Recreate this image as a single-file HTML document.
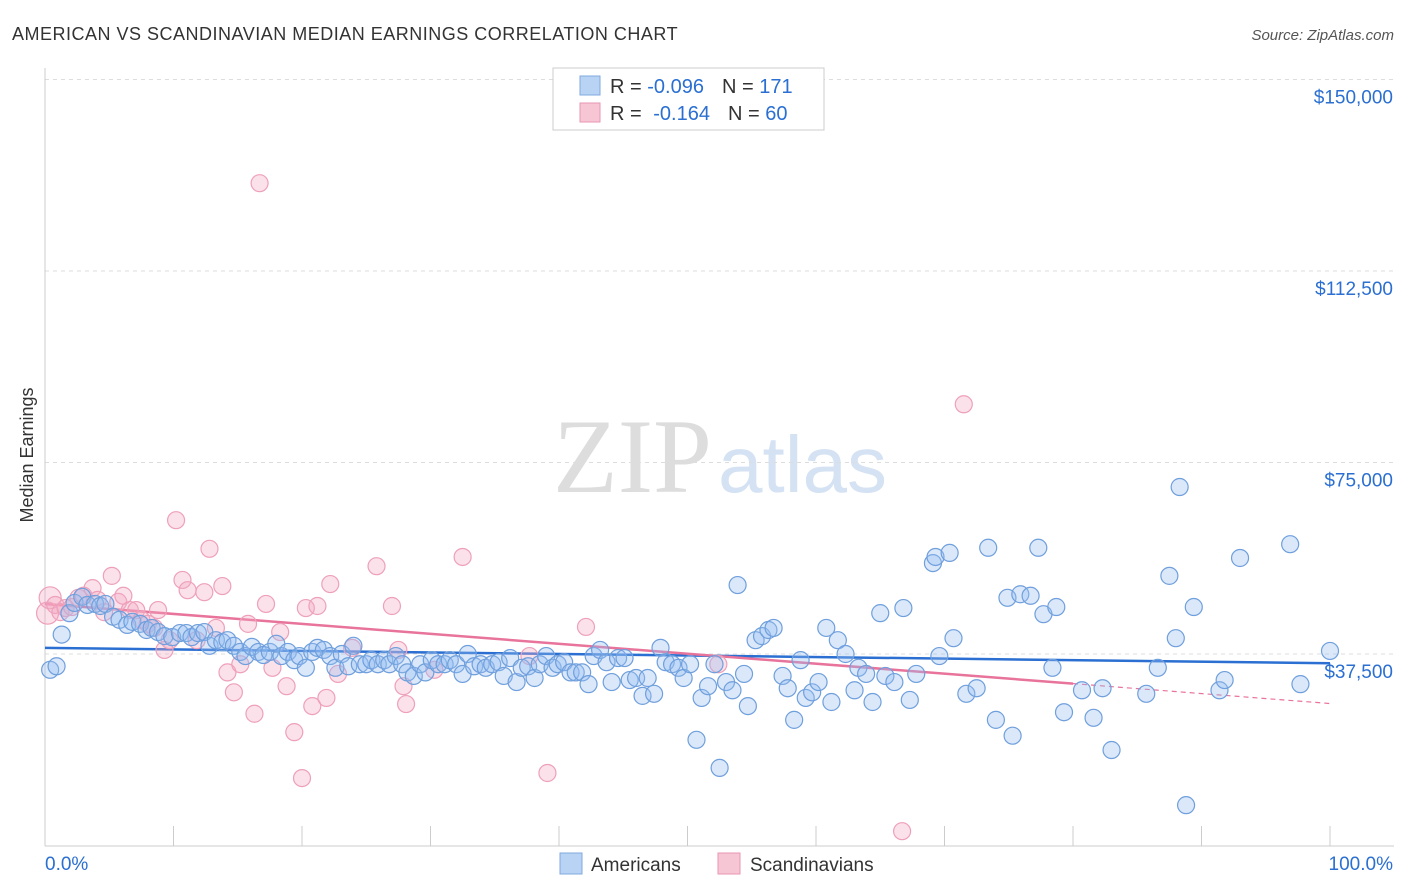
<!DOCTYPE html>
<html><head><meta charset="utf-8"><style>
body{margin:0;background:#fff;font-family:"Liberation Sans",sans-serif;}
#wrap{position:relative;width:1406px;height:892px;overflow:hidden}
</style></head><body>
<div id="wrap">
<svg id="chart" width="1406" height="892">
<text x="12" y="40" font-size="18" fill="#333" letter-spacing="0.5">AMERICAN VS SCANDINAVIAN MEDIAN EARNINGS CORRELATION CHART</text>
<text x="1394" y="40" font-size="15" fill="#555" text-anchor="end" font-style="italic">Source: ZipAtlas.com</text>
<text x="33" y="455" font-size="18" fill="#333" text-anchor="middle" transform="rotate(-90 33 455)">Median Earnings</text>
<g><text x="553" y="492" font-size="106" fill="#ddd" font-family="Liberation Serif">ZIP</text><text x="718" y="492" font-size="80" fill="#d4e2f3">atlas</text></g>
<g id="grid"></g><g id="axes"></g><g id="trend"></g><g id="pts"></g>
<g>
<rect x="553" y="68" width="271" height="62" fill="#fff" stroke="#ccc"/>
<rect x="580" y="76" width="20" height="19" fill="#b8d3f3" stroke="#7fa9dd"/>
<rect x="580" y="103" width="20" height="19" fill="#f7c6d5" stroke="#e996b2"/>
<text x="610" y="93" font-size="20" fill="#333">R = <tspan fill="#2a6fd1">-0.096</tspan><tspan dx="18">N = </tspan><tspan fill="#2a6fd1">171</tspan></text>
<text x="610" y="120" font-size="20" fill="#333">R = <tspan dx="6" fill="#2a6fd1">-0.164</tspan><tspan dx="18">N = </tspan><tspan fill="#2a6fd1"> 60</tspan></text>
</g>
<g>
<rect x="560" y="853" width="22" height="21" fill="#b8d3f3" stroke="#7fa9dd"/>
<text x="591" y="871" font-size="19" fill="#333">Americans</text>
<rect x="718" y="853" width="22" height="21" fill="#f7c6d5" stroke="#e996b2"/>
<text x="750" y="871" font-size="19" fill="#333">Scandinavians</text>
</g>
</svg></div>
<script>
const yTicks=[37500,75000,112500,150000];
const yTickLabels=["$37,500","$75,000","$112,500","$150,000"];
const xTickLabels=["0.0%","100.0%"];
const blueX=[0.4,0.9,1.3,1.9,2.3,2.9,3.3,3.9,4.3,4.7,5.3,5.8,6.4,6.8,7.4,7.9,8.3,8.8,9.3,9.9,10.5,11.0,11.4,11.9,12.4,12.8,13.3,13.8,14.2,14.7,15.2,15.6,16.1,16.6,17.0,17.5,18.0,18.4,18.9,19.4,19.8,20.3,20.8,21.2,21.7,22.2,22.6,23.1,23.6,24.0,24.5,25.0,25.4,25.9,26.4,26.8,27.3,27.8,28.2,28.7,29.2,29.6,30.1,30.6,31.1,31.5,32.0,32.5,32.9,33.4,33.9,34.3,34.8,35.3,35.7,36.2,36.7,37.1,37.6,38.1,38.5,39.0,39.5,39.9,40.4,40.9,41.3,41.8,42.3,42.7,43.2,43.7,44.1,44.6,45.1,45.5,46.0,46.5,46.9,47.4,47.9,48.3,48.8,49.3,49.7,50.2,50.7,51.1,51.6,52.1,52.5,53.0,53.5,53.9,54.4,54.7,55.3,55.8,56.3,56.7,57.4,57.8,58.3,58.8,59.2,59.7,60.2,60.8,61.2,61.7,62.3,63.0,63.3,63.9,64.4,65.0,65.4,66.1,66.8,67.3,67.8,69.1,69.3,69.6,70.4,70.7,71.7,72.5,73.4,74.0,75.3,74.9,75.9,76.7,77.3,77.7,78.7,78.4,79.3,80.7,81.6,82.3,83.0,85.7,86.6,87.5,88.0,88.3,88.8,89.4,91.4,91.8,93.0,96.9,97.7,100];
const blueY=[34.4,35.1,41.3,45.5,47.5,48.7,47.1,47.3,46.9,47.3,44.8,44.2,43.2,43.8,43.4,42.2,42.6,41.8,41.0,40.8,41.6,41.6,40.8,41.6,41.8,39.1,40.2,39.8,40.2,39.1,37.9,37.1,38.9,37.9,37.3,37.9,39.5,37.1,37.9,36.3,37.1,34.8,37.9,38.7,38.3,37.1,34.8,37.5,35.1,39.1,35.5,35.5,36.3,35.5,36.3,35.5,37.1,35.5,33.9,33.2,35.5,33.9,36.3,35.5,35.5,36.3,35.5,33.6,37.5,35.1,35.5,34.8,35.5,35.9,33.2,36.7,32.0,34.8,35.1,32.8,35.5,37.1,34.8,35.5,35.9,33.9,33.9,33.9,31.6,37.1,38.3,35.9,32.0,36.7,36.7,32.4,32.8,29.3,32.8,29.7,38.7,35.9,35.5,34.8,32.8,35.5,20.7,28.9,31.2,35.5,15.2,32.0,30.4,51.0,33.6,27.3,40.2,41.0,42.2,42.6,33.2,30.8,24.6,36.3,28.9,30.0,32.0,42.6,28.1,40.2,37.5,30.4,34.8,33.6,28.1,45.5,33.2,32.0,46.5,28.5,33.6,55.3,56.5,37.1,57.3,40.6,29.7,30.8,58.3,24.6,21.5,48.5,49.2,48.9,58.3,45.3,46.7,34.8,26.1,30.4,25.0,30.8,18.7,29.7,34.8,52.8,40.6,70.2,7.9,46.7,30.4,32.4,56.3,59.0,31.6,38.1];
const pinkX=[0.2,0.4,0.8,1.2,1.6,2.1,2.6,3.0,3.7,4.1,4.6,5.2,5.7,6.1,6.6,7.1,7.5,8.0,8.5,8.8,9.3,9.7,10.2,10.7,11.1,11.8,12.4,12.8,13.3,13.8,14.2,14.7,15.2,15.8,16.3,16.7,17.2,17.7,18.3,18.8,19.4,20.0,20.3,20.8,21.2,21.9,22.2,22.8,23.9,25.8,27.0,27.5,27.9,28.1,30.3,32.5,37.7,39.1,42.1,52.4,66.7,71.5];
const pinkY=[45.5,48.5,47.1,45.7,46.5,46.7,48.5,48.9,50.4,48.1,45.7,52.8,47.7,48.9,46.1,46.1,44.2,43.4,42.6,46.1,38.3,40.2,63.7,52.0,50.0,40.2,49.6,58.1,42.6,50.8,33.9,30.0,35.5,43.4,25.8,129.7,47.3,34.8,41.8,31.2,22.2,13.2,46.5,27.3,46.9,28.9,51.2,33.6,38.7,54.7,46.9,38.3,31.2,27.7,34.4,56.5,37.1,14.2,42.8,35.5,2.8,86.4];
const trendBlue=[38.7,35.7];
const trendPink=[47.3,27.8];
const pinkSolidEnd=80;
const X0=45,X1=1330,Y0=845.5,PXK=191.5/37.5;
const sx=v=>X0+(X1-X0)*v/100, sy=k=>Y0-k*PXK;
const NS="http://www.w3.org/2000/svg";
function mk(t,a,p){const e=document.createElementNS(NS,t);for(const k in a)e.setAttribute(k,a[k]);p.appendChild(e);return e;}
const grid=document.getElementById('grid'),axes=document.getElementById('axes');
yTicks.forEach((v,i)=>{
 const g=mk('line',{x1:45,x2:1394,y1:sy(v/1000),y2:sy(v/1000),stroke:'#ddd','stroke-dasharray':'4 4'},grid);
 
 
 const t=mk('text',{x:1393,y:sy(v/1000)+24,'font-size':19,fill:'#2a6fd1','text-anchor':'end'},axes);
 t.textContent=yTickLabels[i];
 
 
});
const ya=mk('line',{x1:45,x2:45,y1:68,y2:846,stroke:'#ccc'},axes);


const xa=mk('line',{x1:45,x2:1394,y1:846,y2:846,stroke:'#ccc'},axes);


for(let i=0;i<=10;i++){const l=mk('line',{x1:sx(i*10),x2:sx(i*10),y1:826,y2:846,stroke:'#ccc'},axes);
 
 }
[[45,'start'],[1393,'end']].forEach((p,i)=>{const t=mk('text',{x:p[0],y:870,'font-size':19,fill:'#2a6fd1','text-anchor':p[1]},axes);t.textContent=xTickLabels[i];
 
 });
const pts=document.getElementById('pts');
pinkX.forEach((x,i)=>{const c=mk('circle',{cx:sx(x),cy:sy(pinkY[i]),r:i<2?11:8.5,fill:'rgba(244,170,195,0.35)',stroke:'#eea0bb','stroke-width':1.2},pts);
 
 });
blueX.forEach((x,i)=>{const c=mk('circle',{cx:sx(x),cy:sy(blueY[i]),r:8.5,fill:'rgba(150,190,240,0.35)',stroke:'#6f9fdc','stroke-width':1.2},pts);
 
 });
const tr=document.getElementById('trend');
const pinkAt=x=>trendPink[0]+(trendPink[1]-trendPink[0])*x/100;
const b=mk('line',{x1:sx(0),y1:sy(trendBlue[0]),x2:sx(100),y2:sy(trendBlue[1]),stroke:'#2a6fd1','stroke-width':2.5},tr);


const p=mk('line',{x1:sx(0),y1:sy(pinkAt(0)),x2:sx(pinkSolidEnd),y2:sy(pinkAt(pinkSolidEnd)),stroke:'#e8739b','stroke-width':2.5},tr);


const pd=mk('line',{x1:sx(pinkSolidEnd),y1:sy(pinkAt(pinkSolidEnd)),x2:sx(100),y2:sy(pinkAt(100)),stroke:'#e8739b','stroke-width':1.2,'stroke-dasharray':'5 4'},tr);


</script>
</body></html>
